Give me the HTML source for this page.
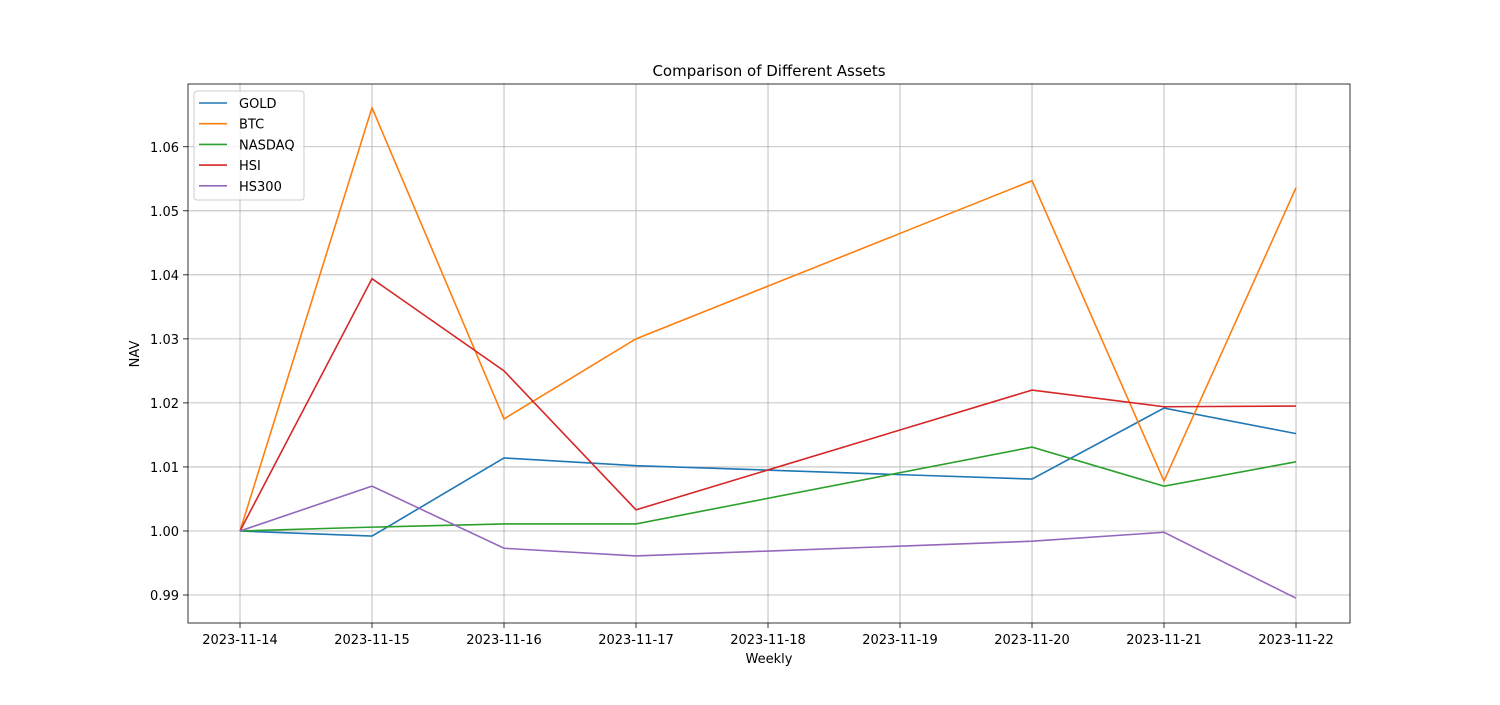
<!DOCTYPE html>
<html><head><meta charset="utf-8"><style>
body{margin:0;background:#fff;}
svg text{font-family:"DejaVu Sans","Liberation Sans",sans-serif;fill:#000;}
</style></head><body>
<svg id="chart" width="1500" height="700"></svg>
<script>
const categories=["2023-11-14","2023-11-15","2023-11-16","2023-11-17","2023-11-18","2023-11-19","2023-11-20","2023-11-21","2023-11-22"];
const pointIdx=[0,1,2,3,6,7,8];
const gold=[1.0000,0.9992,1.0114,1.0102,1.0081,1.0192,1.0152];
const btc=[1.0000,1.0661,1.0175,1.0300,1.0547,1.0078,1.0536];
const nasdaq=[1.0000,1.0006,1.0011,1.0011,1.0131,1.0070,1.0108];
const hsi=[1.0000,1.0394,1.0250,1.0033,1.0220,1.0194,1.0195];
const hs300=[1.0000,1.0070,0.9973,0.9961,0.9984,0.9998,0.9895];
const yTicks=[0.99,1.00,1.01,1.02,1.03,1.04,1.05,1.06];
const seriesNames=["GOLD","BTC","NASDAQ","HSI","HS300"];
const colors=["#1f77b4","#ff7f0e","#2ca02c","#d62728","#9467bd"];
const allSeries=[gold,btc,nasdaq,hsi,hs300];
const L=188,R=1350,T=84,B=623;
const xMin=-0.394,xMax=8.409,yMin=0.98563,yMax=1.0698;
const xs=i=>L+(i-xMin)/(xMax-xMin)*(R-L);
const ys=v=>B-(v-yMin)/(yMax-yMin)*(B-T);
const svg=document.getElementById('chart');
const NS='http://www.w3.org/2000/svg';
function mk(tag,attrs,parent){const e=document.createElementNS(NS,tag);for(const k in attrs)e.setAttribute(k,attrs[k]);(parent||svg).appendChild(e);return e;}
// grid + x ticks
categories.forEach((c,i)=>{
 const x=xs(i);
 const g=mk('line',{x1:x,x2:x,y1:T,y2:B,stroke:'#b0b0b0','stroke-width':0.8});
 
 
 mk('line',{x1:x,x2:x,y1:B,y2:B+5,stroke:'#000','stroke-width':0.8});
 const t=mk('text',{x:x,y:B+21,'text-anchor':'middle','font-size':13});
 t.textContent=c;
 
 
});
yTicks.forEach(v=>{
 const y=ys(v);
 const g=mk('line',{x1:L,x2:R,y1:y,y2:y,stroke:'#b0b0b0','stroke-width':0.8});
 
 
 mk('line',{x1:L-5,x2:L,y1:y,y2:y,stroke:'#000','stroke-width':0.8});
 const t=mk('text',{x:L-9,y:y+5,'text-anchor':'end','font-size':13});
 t.textContent=v.toFixed(2);
 
 
});
allSeries.forEach((s,k)=>{
 const p=mk('polyline',{points:s.map((v,j)=>xs(pointIdx[j])+','+ys(v)).join(' '),fill:'none',stroke:colors[k],'stroke-width':1.6});
 
 
});
const frame=mk('rect',{x:L,y:T,width:R-L,height:B-T,fill:'none',stroke:'#000','stroke-width':0.8});


const title=mk('text',{x:(L+R)/2,y:76,'text-anchor':'middle','font-size':15});
title.textContent='Comparison of Different Assets';


const xl=mk('text',{x:(L+R)/2,y:663,'text-anchor':'middle','font-size':13});
xl.textContent='Weekly';


const yl=mk('text',{x:139,y:354,'text-anchor':'middle','font-size':13,transform:'rotate(-90 139 354)'});
yl.textContent='NAV';


const lg=mk('g',{});


mk('rect',{x:194,y:91,width:110,height:109,rx:3,fill:'#fff','fill-opacity':0.8,stroke:'#ccc'},lg);
seriesNames.forEach((n,k)=>{
 const y=103+k*20.7;
 const e=mk('g',{},lg);
 
 
 mk('line',{x1:199,x2:227,y1:y,y2:y,stroke:colors[k],'stroke-width':1.6},e);
 const t=mk('text',{x:239,y:y+5,'font-size':13},e);
 t.textContent=n;
});
</script>
</body></html>
